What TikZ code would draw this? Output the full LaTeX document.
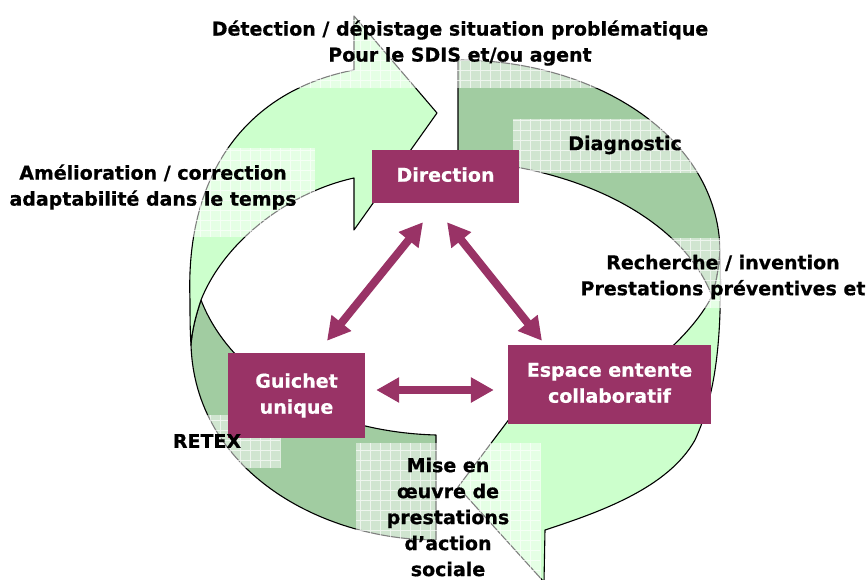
\documentclass[tikz,border=0pt]{standalone}
\usepackage{fontspec}
\setmainfont{DejaVu Sans}[BoldFeatures={FakeBold=0.6}]
\usetikzlibrary{arrows.meta,calc}
\definecolor{leaf}{HTML}{CCFFCC}
\definecolor{moss}{RGB}{161,204,161}
\definecolor{plum}{HTML}{993366}
\tikzset{
  ring/.style={draw=black, line width=1.1pt, line join=round},
  hub/.style={fill=plum, text=white, font=\bfseries\fontsize{19}{26}\selectfont,
              align=center, inner sep=0pt},
  lbl/.style={font=\bfseries\fontsize{19}{26}\selectfont, align=center, text=black},
  link/.style={draw=plum, line width=8pt,
               arrows={Triangle[length=23pt,width=24pt]-Triangle[length=23pt,width=24pt]}},
}
% translucent squared backdrop behind a label
\newcommand\gridpatch[2]{%
  \fill[white, opacity=0.5] #1 rectangle #2;
  \draw[white, opacity=0.65, line width=0.6pt, step=10pt] #1 grid #2;}
% stacked lines inside a box, nudged up a little
\newcommand\hubtext[2][2pt]{\raisebox{#1}{\begin{tabular}{@{}c@{}}#2\end{tabular}}}

\begin{document}
\begin{tikzpicture}[x=1pt,y=-1pt]
\useasboundingbox (0,0) rectangle (868,580);

% upper right band
\path[ring, fill=moss] (458,160) -- (458,60)
  .. controls (600,60) and (718,140) .. (720,250)
  .. controls (719,268) and (716,284) .. (712,296)
  .. controls (685,225) and (590,168) .. (458,160) -- cycle;

% lower left band
\path[ring, fill=moss] (201,300)
  .. controls (230,375) and (320,432) .. (436,435)
  -- (436,540)
  .. controls (320,540) and (195,470) .. (191,345)
  .. controls (192,330) and (196,315) .. (201,300) -- cycle;

% upper left arrow
\path[ring, fill=leaf] (354,70) -- (354,16) -- (437,113) -- (354,230) -- (354,178)
  .. controls (290,192) and (225,240) .. (201,300)
  .. controls (196,315) and (192,330) .. (191,345)
  .. controls (190,330) and (190,315) .. (190,300)
  .. controls (185,170) and (250,90) .. (354,70) -- cycle;

% lower right arrow
\path[ring, fill=leaf] (720,250)
  .. controls (722,330) and (718,390) .. (695,440)
  .. controls (668,488) and (600,512) .. (545,530)
  -- (544,582) -- (458,487) -- (544,373) -- (544,420)
  .. controls (620,400) and (690,340) .. (712,296)
  .. controls (716,284) and (719,268) .. (720,250) -- cycle;

% label backdrops
\gridpatch{(205,10)}{(715,88)}
\gridpatch{(513,119)}{(703,173)}
\gridpatch{(5,148)}{(315,237)}
\gridpatch{(598,238)}{(866,308)}
\gridpatch{(160,415)}{(280,468)}
\gridpatch{(356,443)}{(540,582)}

% central boxes
\node[hub, minimum width=147pt, minimum height=53pt] (dir) at (445.5,176.5) {\hubtext{Direction}};
\node[hub, minimum width=137pt, minimum height=85pt] (gui) at (296.5,395.5) {\hubtext[3pt]{Guichet\\unique}};
\node[hub, minimum width=203pt, minimum height=79pt] (esp) at (609.5,384.5) {\hubtext[2pt]{Espace entente\\collaboratif}};

% links between the boxes
\draw[link] ($(dir.south)+(-22.5,19)$) -- ($(gui.north)+(30.5,-12)$);
\draw[link] ($(dir.south)+(1.5,19)$) -- ($(esp.north)+(-67.5,-4)$);
\draw[link] ($(gui.east)+(11,-5.5)$) -- ($(esp.west)+(-14,5.5)$);

% stage labels
\node[lbl] (det) at (460,43) {Détection / dépistage situation problématique\\Pour le SDIS et/ou agent};
\node[lbl] (dia) at (625,145) {Diagnostic};
\node[lbl] (ame) at (153,187) {Amélioration / correction\\adaptabilité dans le temps};
\node[lbl] (rec) at (723,277) {Recherche / invention\\Prestations préventives et};
\node[lbl] (ret) at (207,441) {RETEX};
\node[lbl] (mis) at (448,517) {Mise en\\œuvre de\\prestations\\d’action\\sociale};
\end{tikzpicture}
\end{document}
